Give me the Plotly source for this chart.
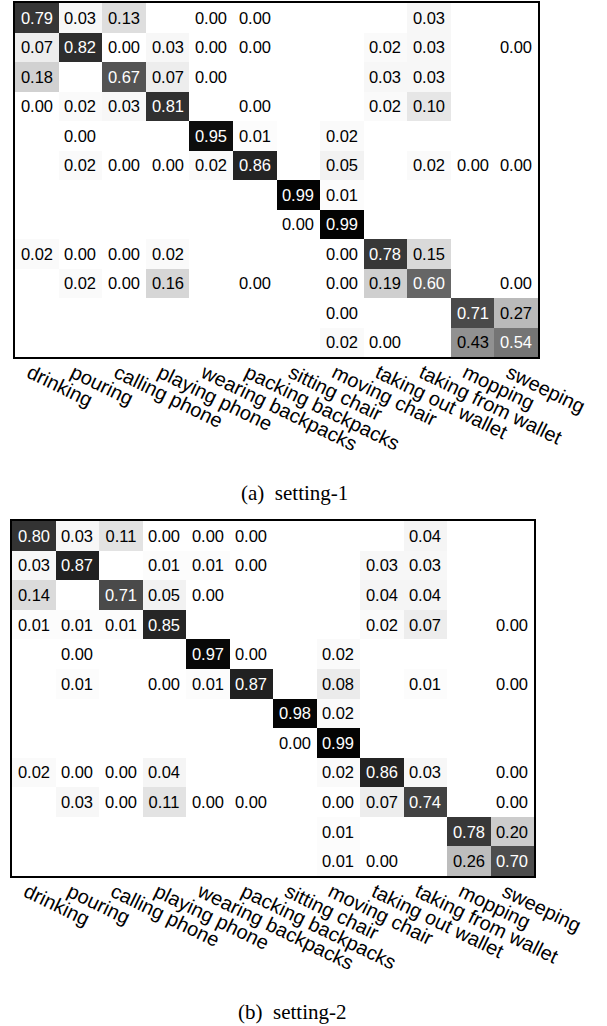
import plotly.graph_objects as go

classes = ["drinking", "pouring", "calling phone", "playing phone", "wearing backpacks",
           "packing backpacks", "sitting chair", "moving chair", "taking out wallet",
           "taking from wallet", "mopping", "sweeping"]

N = None
setting1 = [
    [0.79, 0.03, 0.13, N, 0.00, 0.00, N, N, N, 0.03, N, N],
    [0.07, 0.82, 0.00, 0.03, 0.00, 0.00, N, N, 0.02, 0.03, N, 0.00],
    [0.18, N, 0.67, 0.07, 0.00, N, N, N, 0.03, 0.03, N, N],
    [0.00, 0.02, 0.03, 0.81, N, 0.00, N, N, 0.02, 0.10, N, N],
    [N, 0.00, N, N, 0.95, 0.01, N, 0.02, N, N, N, N],
    [N, 0.02, 0.00, 0.00, 0.02, 0.86, N, 0.05, N, 0.02, 0.00, 0.00],
    [N, N, N, N, N, N, 0.99, 0.01, N, N, N, N],
    [N, N, N, N, N, N, 0.00, 0.99, N, N, N, N],
    [0.02, 0.00, 0.00, 0.02, N, N, N, 0.00, 0.78, 0.15, N, N],
    [N, 0.02, 0.00, 0.16, N, 0.00, N, 0.00, 0.19, 0.60, N, 0.00],
    [N, N, N, N, N, N, N, 0.00, N, N, 0.71, 0.27],
    [N, N, N, N, N, N, N, 0.02, 0.00, N, 0.43, 0.54],
]

setting2 = [
    [0.80, 0.03, 0.11, 0.00, 0.00, 0.00, N, N, N, 0.04, N, N],
    [0.03, 0.87, N, 0.01, 0.01, 0.00, N, N, 0.03, 0.03, N, N],
    [0.14, N, 0.71, 0.05, 0.00, N, N, N, 0.04, 0.04, N, N],
    [0.01, 0.01, 0.01, 0.85, N, N, N, N, 0.02, 0.07, N, 0.00],
    [N, 0.00, N, N, 0.97, 0.00, N, 0.02, N, N, N, N],
    [N, 0.01, N, 0.00, 0.01, 0.87, N, 0.08, N, 0.01, N, 0.00],
    [N, N, N, N, N, N, 0.98, 0.02, N, N, N, N],
    [N, N, N, N, N, N, 0.00, 0.99, N, N, N, N],
    [0.02, 0.00, 0.00, 0.04, N, N, N, 0.02, 0.86, 0.03, N, 0.00],
    [N, 0.03, 0.00, 0.11, 0.00, 0.00, N, 0.00, 0.07, 0.74, N, 0.00],
    [N, N, N, N, N, N, N, 0.01, N, N, 0.78, 0.20],
    [N, N, N, N, N, N, N, 0.01, 0.00, N, 0.26, 0.70],
]

captions = ["(a)  setting-1", "(b)  setting-2"]

W, H = 607, 1026
DARK = 0.5
CSCALE = [[0, "#ffffff"], [1, "#000000"]]


def txt(m, keep):
    return [["" if (v is None or not keep(v)) else f"{v:.2f}" for v in row] for row in m]


def only_dark(m):
    return [[v if (v is not None and v >= DARK) else None for v in row] for row in m]


fig = go.Figure()
panels = [
    (setting1, "x", "y", (15, 538), (3, 357), (294, 493)),
    (setting2, "x2", "y2", (12, 534), (521, 876), (292, 1012)),
]

for i, (m, xa, ya, (x0, x1), (y0, y1), (capx, capy)) in enumerate(panels):
    # all cells, black text on light cells
    fig.add_trace(go.Heatmap(
        z=m, x=classes, y=classes, text=txt(m, lambda v: v < DARK), texttemplate="%{text}",
        textfont=dict(family="Liberation Sans, Arial", size=16.5, color="black"),
        colorscale=CSCALE, zmin=0, zmax=1,
        showscale=False, xaxis=xa, yaxis=ya, hoverongaps=False,
    ))
    # dark cells again, white text
    fig.add_trace(go.Heatmap(
        z=only_dark(m), x=classes, y=classes, text=txt(m, lambda v: v >= DARK),
        texttemplate="%{text}",
        textfont=dict(family="Liberation Sans, Arial", size=16.5, color="white"),
        colorscale=CSCALE, zmin=0, zmax=1,
        showscale=False, xaxis=xa, yaxis=ya, hoverongaps=False,
    ))
    sfx = "" if i == 0 else "2"
    fig.layout["xaxis" + sfx] = dict(
        domain=[x0 / W, x1 / W], anchor=ya, tickangle=26, automargin=False,
        tickfont=dict(family="Liberation Sans, Arial", size=20, color="black"),
        ticklabelshift=-7, ticklabelstandoff=-5,
        showline=True, mirror=True, linecolor="black", linewidth=1.5,
        ticks="", showgrid=False, zeroline=False, type="category",
    )
    fig.layout["yaxis" + sfx] = dict(
        domain=[1 - y1 / H, 1 - y0 / H], anchor=xa, autorange="reversed",
        automargin=False,
        showticklabels=False, showline=True, mirror=True, linecolor="black",
        linewidth=1.5, ticks="", showgrid=False, zeroline=False, type="category",
    )
    fig.add_annotation(
        text=captions[i], x=capx / W, y=1 - capy / H, borderpad=0,
        xref="paper", yref="paper", showarrow=False, xanchor="center", yanchor="middle",
        font=dict(family="Liberation Serif, Times New Roman", size=21, color="black"),
    )

fig.update_layout(
    width=W, height=H, margin=dict(l=0, r=0, t=0, b=0, autoexpand=False),
    paper_bgcolor="white", plot_bgcolor="white", showlegend=False,
)

fig.write_html(
    "out.html",
    config={"displayModeBar": False},
    post_script="document.body.style.margin='0';document.body.style.overflow='hidden';",
)
